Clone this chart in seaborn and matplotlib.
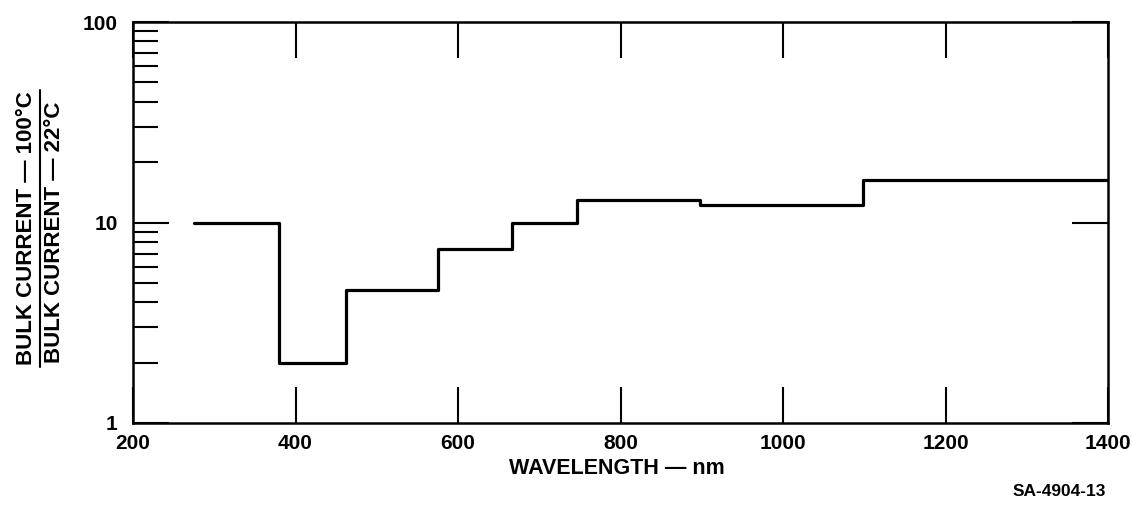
import matplotlib
matplotlib.use("Agg")
import matplotlib.pyplot as plt
import matplotlib.ticker as mticker
from matplotlib.lines import Line2D
import seaborn as sns
import pandas as pd

# ---- data ----
step_edges = [275, 380, 462, 575, 667, 747, 898, 1098, 1400]   # wavelength, nm
step_values = [10.0, 2.0, 4.6, 7.4, 10.0, 13.0, 12.2, 16.2]     # ratio per band
x_ticks = [200, 400, 600, 800, 1000, 1200, 1400]
x_tick_labels = ["200", "400", "600", "800", "1000", "1200", "1400"]
y_ticks = [1, 10, 100]
y_tick_labels = ["1", "10", "100"]

sns.set_theme(style="white")
plt.rcParams["font.family"] = ["Liberation Sans", "DejaVu Sans"]
plt.rcParams["text.color"] = "black"
plt.rcParams["axes.labelcolor"] = "black"
plt.rcParams["xtick.color"] = "black"
plt.rcParams["ytick.color"] = "black"

df = pd.DataFrame({"wavelength": step_edges,
                   "ratio": step_values + [step_values[-1]]})

W, H = 1132, 507
fig = plt.figure(figsize=(W / 100, H / 100), dpi=100)
ax = fig.add_axes([133 / W, 1 - 423 / H, (1108 - 133) / W, (423 - 22) / H])

sns.lineplot(data=df, x="wavelength", y="ratio", ax=ax, estimator=None,
             drawstyle="steps-post", color="black", linewidth=2.3)

ax.set_yscale("log")
ax.set_xlim(200, 1400)
ax.set_ylim(1, 100)

ax.set_xticks(x_ticks, labels=x_tick_labels)
ax.set_yticks(y_ticks, labels=y_tick_labels)
ax.yaxis.set_minor_locator(mticker.LogLocator(base=10, subs=range(2, 10)))
ax.yaxis.set_minor_formatter(mticker.NullFormatter())
ax.xaxis.set_minor_locator(mticker.NullLocator())

for s in ax.spines.values():
    s.set_color("black")
    s.set_linewidth(1.8)

ax.tick_params(axis="x", which="major", direction="in", length=26, width=1.5,
               top=True, bottom=True, labelsize=15, pad=8, colors="black")
ax.tick_params(axis="y", which="major", direction="in", length=26, width=1.5,
               left=True, right=True, labelsize=15, pad=11, colors="black")
ax.tick_params(axis="y", which="minor", direction="in", length=18, width=1.5,
               left=True, right=False, colors="black")
for lab in ax.get_xticklabels() + ax.get_yticklabels():
    lab.set_fontweight("bold")

ax.set_xlabel("")
ax.set_ylabel("")
ax.grid(False)

# x-axis title and figure id
fig.text(617 / W, 1 - 468 / H, "WAVELENGTH — nm", ha="center", va="center",
         fontsize=15.5, fontweight="bold", color="black")
fig.text(1106 / W, 1 - 492 / H, "SA-4904-13", ha="right", va="center",
         fontsize=12.5, fontweight="bold", color="black")

# y-axis title as a fraction
fig.text(26 / W, 1 - 365 / H, "BULK CURRENT — 100°C", rotation=90,
         rotation_mode="anchor", ha="left", va="center", fontsize=16,
         fontweight="bold", color="black")
fig.text(54 / W, 1 - 363 / H, "BULK CURRENT — 22°C", rotation=90,
         rotation_mode="anchor", ha="left", va="center", fontsize=16,
         fontweight="bold", color="black")
fig.add_artist(Line2D([40 / W, 40 / W], [1 - 367 / H, 1 - 90 / H],
                      transform=fig.transFigure, color="black", linewidth=1.5))

fig.savefig("out.png", dpi=100, facecolor="white")
